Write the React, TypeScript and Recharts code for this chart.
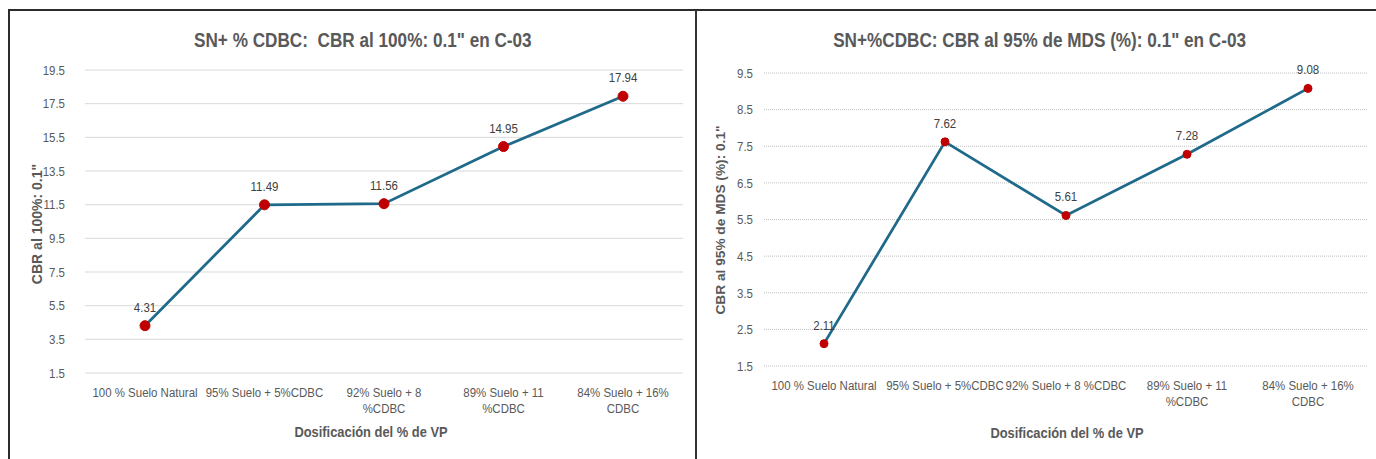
import React from 'react';
import { LineChart, Line, XAxis, YAxis, CartesianGrid, LabelList } from 'recharts';

const leftCategories = ['100 % Suelo Natural', '95% Suelo + 5%CDBC', '92% Suelo + 8\n%CDBC', '89% Suelo + 11\n%CDBC', '84% Suelo + 16%\nCDBC'];
const leftValues = [4.31, 11.49, 11.56, 14.95, 17.94];
const leftTicks = [1.5, 3.5, 5.5, 7.5, 9.5, 11.5, 13.5, 15.5, 17.5, 19.5];
const leftTitle = 'SN+ % CDBC:  CBR al 100%: 0.1" en C-03';
const leftYTitle = 'CBR al 100%: 0.1"';

const rightCategories = ['100 % Suelo Natural', '95% Suelo + 5%CDBC', '92% Suelo + 8 %CDBC', '89% Suelo + 11\n%CDBC', '84% Suelo + 16%\nCDBC'];
const rightValues = [2.11, 7.62, 5.61, 7.28, 9.08];
const rightTicks = [1.5, 2.5, 3.5, 4.5, 5.5, 6.5, 7.5, 8.5, 9.5];
const rightTitle = 'SN+%CDBC: CBR al 95% de MDS (%): 0.1" en C-03';
const rightYTitle = 'CBR al 95% de MDS (%): 0.1"';

const xTitle = 'Dosificación  del % de  VP';

const FONT = "'Liberation Sans', Arial, sans-serif";
const SX = 0.85; // horizontal condensing to mimic a narrow face
const GREY = '#595959';
const LINE = '#1f6a8a';
const MARK = '#c00000';

const leftData = leftCategories.map((c, i) => ({ cat: c, v: leftValues[i] }));
const rightData = rightCategories.map((c, i) => ({ cat: c, v: rightValues[i] }));

const squeeze = (x: number, s: number = SX) => `matrix(${s},0,0,1,${x * (1 - s)},0)`;

const XTick = (props: any) => {
  const { x, y, payload } = props;
  const lines = String(payload.value).split('\n');
  return (
    <text x={x} y={y} transform={squeeze(x)} textAnchor="middle" fill={GREY} fontSize={13.5} fontFamily={FONT}>
      {lines.map((l, i) => (
        <tspan key={i} x={x} dy={i === 0 ? '0.71em' : 16}>{l}</tspan>
      ))}
    </text>
  );
};

const YTick = (props: any) => {
  const { x, y, payload } = props;
  return (
    <text x={x} y={y} dy="0.355em" transform={squeeze(x)} textAnchor="end" fill={GREY} fontSize={13.5} fontFamily={FONT}>
      {String(payload.value)}
    </text>
  );
};

const ValueLabel = (props: any) => {
  const { x, y, width, value } = props;
  const cx = x + (width || 0) / 2;
  return (
    <text x={cx} y={y - 14} transform={squeeze(cx)} textAnchor="middle" fill="#404040" fontSize={13.5} fontFamily={FONT}>
      {String(value)}
    </text>
  );
};

const Dot = (r: number) => (props: any) => {
  const { cx, cy } = props;
  if (cx == null || cy == null) return null;
  return <circle cx={cx} cy={cy} r={r} fill={MARK} stroke={MARK} strokeWidth={1} />;
};

const title = (text: string, cx: number) => (
  <div style={{ position: 'absolute', left: cx - 400, width: 800, top: 27, textAlign: 'center' }}>
    <span
      style={{
        display: 'inline-block', transform: 'scaleX(0.88)', transformOrigin: 'center',
        fontFamily: FONT, fontWeight: 700, fontSize: 19.5, color: GREY, lineHeight: '26px', whiteSpace: 'pre',
      }}
    >
      {text}
    </span>
  </div>
);

export default function App() {
  return (
    <div style={{ position: 'fixed', left: 0, top: 0, width: 1376, height: 459, background: '#fff', overflow: 'hidden' }}>
      <div style={{ position: 'absolute', left: 8, top: 9, width: 1368, height: 2, background: '#2b2b2b' }} />
      <div style={{ position: 'absolute', left: 8, top: 9, width: 2, height: 450, background: '#2b2b2b' }} />
      <div style={{ position: 'absolute', left: 695, top: 9, width: 2, height: 450, background: '#333' }} />

      {title(leftTitle, 363)}
      {title(rightTitle, 1040)}

      <div style={{ position: 'absolute', left: 0, top: 0 }}>
        <LineChart width={697} height={459} data={leftData} margin={{ top: 70, right: 14, bottom: 26, left: 25 }}>
          <CartesianGrid vertical={false} stroke="#d9d9d9" strokeWidth={1} />
          <XAxis
            dataKey="cat" interval={0} axisLine={false} tickLine={false} tickSize={0} tickMargin={14}
            height={60} padding={{ left: 60, right: 60 }} tick={<XTick />}
            label={{
              content: () => (
                <text x={371} y={437} transform={squeeze(371, 0.86)} textAnchor="middle" fill={GREY} fontFamily={FONT} fontWeight={700} fontSize={15}>{xTitle}</text>
              ),
            }}
          />
          <YAxis
            type="number" domain={[1.5, 19.5]} ticks={leftTicks} interval={0} width={60}
            axisLine={false} tickLine={false} tickSize={0} tickMargin={20}
            tick={<YTick />}
            label={{
              content: () => (
                <text x={42} y={224} transform="rotate(-90 42 224)" textAnchor="middle" fill={GREY} fontFamily={FONT} fontWeight={700} fontSize={14}>{leftYTitle}</text>
              ),
            }}
          />
          <Line dataKey="v" stroke={LINE} strokeWidth={2.75} isAnimationActive={false} dot={Dot(5)} activeDot={false}>
            <LabelList dataKey="v" content={<ValueLabel />} />
          </Line>
        </LineChart>
      </div>

      <div style={{ position: 'absolute', left: 697, top: 0 }}>
        <LineChart width={679} height={459} data={rightData} margin={{ top: 73, right: 8, bottom: 33, left: 17 }}>
          <CartesianGrid vertical={false} stroke="#bfbfbf" strokeWidth={1} strokeDasharray="1 1" />
          <XAxis
            dataKey="cat" interval={0} axisLine={false} tickLine={false} tickSize={0} tickMargin={14}
            height={60} padding={{ left: 60, right: 60 }} tick={<XTick />}
            label={{
              content: () => (
                <text x={370} y={438} transform={squeeze(370, 0.86)} textAnchor="middle" fill={GREY} fontFamily={FONT} fontWeight={700} fontSize={15}>{xTitle}</text>
              ),
            }}
          />
          <YAxis
            type="number" domain={[1.5, 9.5]} ticks={rightTicks} interval={0} width={50}
            axisLine={false} tickLine={false} tickSize={0} tickMargin={11}
            tick={<YTick />}
            label={{
              content: () => (
                <text x={28} y={220} transform="rotate(-90 28 220)" textAnchor="middle" fill={GREY} fontFamily={FONT} fontWeight={700} fontSize={13.7}>{rightYTitle}</text>
              ),
            }}
          />
          <Line dataKey="v" stroke={LINE} strokeWidth={2.75} isAnimationActive={false} dot={Dot(4)} activeDot={false}>
            <LabelList dataKey="v" content={<ValueLabel />} />
          </Line>
        </LineChart>
      </div>
    </div>
  );
}
